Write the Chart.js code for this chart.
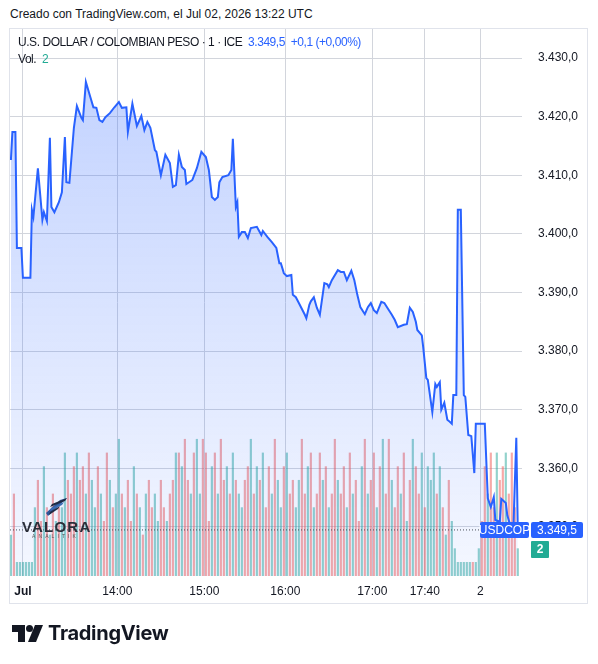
<!DOCTYPE html>
<html>
<head>
<meta charset="utf-8">
<script src="https://cdn.jsdelivr.net/npm/chart.js@4.4.1/dist/chart.umd.min.js"></script>
<style>
  body { margin: 0; background: #fff; width: 598px; height: 664px; position: relative; overflow: hidden;
         font-family: "Liberation Sans", Arial, sans-serif; color: #131722; }
  #created { position: absolute; left: 10px; top: 6px; font-size: 12px; line-height: 16px; }
  #pane { position: absolute; left: 9px; top: 28px; width: 579px; height: 576px; border: 1px solid #e0e3eb; box-sizing: border-box; }
  #chart { position: absolute; left: 10px; top: 29px; }
  .legend { position: absolute; left: 18px; font-size: 12px; letter-spacing: -0.45px; line-height: 16px; white-space: nowrap; }
  .blue { color: #2962ff; }
  .teal { color: #22ab94; }
  #valora { position: absolute; left: 20px; top: 495px; width: 80px; height: 50px; }
  #valora .name { position: absolute; left: 2px; top: 23px; font-weight: bold; font-size: 15px; letter-spacing: 1.2px; color: #2a2e39; }
  #valora .sub { position: absolute; left: 12px; top: 38px; font-size: 5px; letter-spacing: 3.1px; color: #555; }
  #tvlogo { position: absolute; left: 12px; top: 622px; height: 24px; }
  #tvlogo span { position: absolute; left: 36px; top: -1px; font-family: Inter, sans-serif; font-weight: 700; font-size: 20px; letter-spacing: -0.3px; color: #131722; }
</style>
</head>
<body>
<div id="created">Creado con TradingView.com, el Jul 02, 2026 13:22 UTC</div>
<div id="pane"></div>
<canvas id="chart" width="577" height="574"></canvas>
<div class="legend" style="top:34px">U.S. DOLLAR / COLOMBIAN PESO · 1 · ICE&nbsp;&nbsp;<span class="blue">3.349,5&nbsp;&nbsp;+0,1 (+0,00%)</span></div>
<div class="legend" style="top:51px">Vol.&nbsp;&nbsp;<span class="teal">2</span></div>
<div id="valora">
  <svg width="80" height="24" style="position:absolute;left:0;top:0">
    <polygon points="28,21 47,3 40,5 26,18" fill="#2f5597"/>
    <polygon points="30,12 45,6 47,3 32,9" fill="#1f2a44"/>
    <polygon points="30,16 42,10 44,7 31,13" fill="#3b6cb5"/>
    <polygon points="29,20 38,14 40,11 30,17" fill="#1f2a44"/>
  </svg>
  <div class="name">VALORA</div>
  <div class="sub">ANALITIK</div>
</div>
<div id="tvlogo">
  <svg width="32" height="20" style="position:absolute;left:0;top:3px">
    <path d="M0 0 H13 V17 H6 V7 H0 Z" fill="#131722"/>
    <circle cx="17.5" cy="3.5" r="3.5" fill="#131722"/>
    <polygon points="23,0 31,0 24,17 16,17" fill="#131722"/>
  </svg>
  <span>TradingView</span>
</div>

<script>
// precio (índice de barra -> valor)
const priceIdx = [0,0.5,1.5,2,3.5,4,6.5,7,7.5,9,
  10.5,11,12,13,13.5,14.5,16,17,18,18.5,
  19.5,21,22,23.5,24,25,26.5,27.5,28.5,29.5,
  30.5,31.5,33,34.5,36,37,38.5,39,40.5,42,
  43.5,44.5,45.5,46.5,48,48.5,50,51.5,53,54,
  55,56,57,58,58.5,60.5,62,63.5,65,66,
  67,68,69,69.5,70.5,72.5,73.5,74,75,75.5,
  76,77,78,79,80,82,83.5,84,85.5,87,
  88.5,89.5,90,91,92,93.5,94,95,96,98,
  98.5,99.5,100,101,102,103,104.5,105.5,106,107,
  109,110,111,112,113.5,114.5,115.5,116.5,118,119,
  120,121,122,123.5,124.5,125.5,127,128,129,131,
  132,133,134,135,135.5,137,137.5,138.5,139,140.5,
  141.5,142,143,143.5,144.5,145.5,146,147,147.5,148.5,
  149,150,151,151.5,152.5,153.5,154.5,155,158,159,
  160,161,161.5,163,163.5,165,165.5,166.5,167.5,168.5,
  169];
const priceVal = [3412.6,3417.4,3417.4,3397.6,3397.6,3392.5,3392.5,3404.1,3402.9,3411.2,
  3402.4,3403.7,3402.2,3416.4,3404.6,3403.7,3405.4,3407.1,3416.5,3408.8,
  3408.7,3418.1,3421.8,3419.8,3419.4,3425.9,3423.3,3421.6,3421.5,3419.4,
  3419.1,3419.9,3420.6,3421.6,3422.5,3421.5,3421.6,3417.4,3422.2,3418.4,
  3420.1,3417.7,3419.1,3418.1,3414.3,3414.0,3410.0,3413.5,3412.1,3408.0,
  3408.3,3413.5,3411.4,3410.9,3408.5,3409.2,3411.2,3414.0,3413.1,3410.9,
  3406.3,3405.8,3406.3,3408.8,3409.7,3410.0,3410.9,3416.2,3404.6,3405.4,
  3399.5,3400.3,3400.3,3399.3,3401.0,3401.2,3399.8,3400.5,3399.5,3398.6,
  3397.6,3395.0,3395.0,3393.3,3392.8,3393.0,3389.6,3389.2,3388.2,3386.2,
  3385.6,3387.9,3388.5,3389.2,3387.4,3386.2,3391.6,3391.4,3390.9,3392.1,
  3393.8,3393.5,3393.5,3392.1,3393.7,3392.1,3389.6,3387.5,3386.3,3387.5,
  3388.2,3387.0,3386.5,3388.4,3388.2,3387.4,3386.2,3385.3,3384.1,3384.5,
  3384.6,3387.4,3386.7,3385.0,3383.6,3382.7,3380.5,3375.4,3375.1,3369.6,
  3374.4,3373.9,3374.7,3370.0,3371.2,3368.3,3368.1,3367.6,3372.5,3372.5,
  3404.1,3404.1,3372.5,3372.2,3365.7,3365.5,3359.2,3367.6,3367.6,3354.9,
  3353.4,3355.1,3351.2,3350.9,3354.8,3354.1,3352.0,3350.3,3349.5,3365.2,
  3349.5];

// volumen por barra y sentido (g = sube, r = baja)
const volValues = [3,6,1,1,1,1,1,1,
  5,7,4,8,5,3,6,4,5,5,9,7,6,
  8,9,7,8,6,9,7,5,8,6,4,9,7,5,6,
  10,6,5,7,4,8,6,5,3,6,7,5,6,4,7,
  5,4,6,7,9,9,8,10,7,6,9,10,6,10,9,
  4,8,9,6,10,7,8,6,9,7,6,5,7,8,10,
  6,8,7,9,5,8,6,10,7,5,8,9,6,7,5,
  7,10,6,8,9,5,6,9,7,8,5,6,10,7,6,
  8,5,9,6,7,4,8,10,6,7,9,5,8,10,6,
  10,7,5,8,6,9,4,7,10,8,6,9,5,8,7,
  9,6,8,5,3,7,4,2,
  1,1,1,1,1,1,1,2,
  4,8,6,9,5,9,7,8,9,6,9,5,2];
const volSide = ('grgggggg' + 'grrgrgrgrggrr' + 'rgrrgrggrgrrgrg' + 'grgrrgrgrgrrggr' +
  'rgrrgrgrrgrggrr' + 'rgrgrrgrgrggrrg' + 'rgrgrrgrggrgrrg' + 'grrgrgrrgrgrrgr' +
  'rgrgrrgrgrrgrgr' + 'rgrrgrgrgrrgrgg' + 'grgrgrgg' + 'gggggrgg' + 'rrgrrgrrgrrrg').split('');

const tickPos = [4, 35.5, 64.5, 91.5, 120.5, 138, 156.5];
const tickText = ['Jul', '14:00', '15:00', '16:00', '17:00', '17:40', '2'];
const priceTicks = [3350, 3360, 3370, 3380, 3390, 3400, 3410, 3420, 3430];
const yMin = 3341.64, yMax = 3434.95;
const xMin = -0.3, xMax = 170.4;
const volMax = 40;
const lastPrice = 3349.5;
const lastVol = 2;

const FONT = '"Liberation Sans", Arial, sans-serif';
const GRID = '#d2d5dc';

function fmt(v) {
    const s = v.toFixed(1).split('.');
    return s[0].replace(/\B(?=(\d{3})+(?!\d))/g, '.') + ',' + s[1];
}

function roundBox(ctx, x, y, w, h, r) {
    ctx.beginPath();
    ctx.moveTo(x + r, y);
    ctx.arcTo(x + w, y, x + w, y + h, r);
    ctx.arcTo(x + w, y + h, x, y + h, r);
    ctx.arcTo(x, y + h, x, y, r);
    ctx.arcTo(x, y, x + w, y, r);
    ctx.closePath();
    ctx.fill();
}

// sin márgenes extra: el área de trazado ocupa todo el panel
function noPad(s) {
    s.paddingLeft = 0; s.paddingRight = 0; s.paddingTop = 0; s.paddingBottom = 0;
}

// etiquetas del último precio y volumen en el eje derecho
const lastLabels = {
    id: 'lastLabels',
    afterDraw(chart) {
        const ctx = chart.ctx;
        const a = chart.chartArea;
        const yp = Math.round(chart.scales.y.getPixelForValue(lastPrice));
        const yv = Math.round(chart.scales.yVol.getPixelForValue(lastVol));
        ctx.save();
        ctx.font = '12px ' + FONT;
        ctx.textBaseline = 'middle';
        ctx.fillStyle = '#2962ff';
        roundBox(ctx, a.right - 42, yp - 8, 49, 16, 2);
        roundBox(ctx, a.right + 9, yp - 8, 52, 16, 2);
        ctx.fillStyle = '#22ab94';
        roundBox(ctx, a.right + 9, yv - 8, 18, 17, 1);
        ctx.fillStyle = '#ffffff';
        ctx.textAlign = 'center';
        ctx.fillText('USDCOP', a.right - 17.5, yp + 1);
        ctx.fillText(fmt(lastPrice), a.right + 35, yp + 1);
        ctx.font = 'bold 12px ' + FONT;
        ctx.fillText(String(lastVol), a.right + 18, yv + 1);
        ctx.restore();
    }
};

document.addEventListener('DOMContentLoaded', () => {
    const cv = document.getElementById('chart');
    new Chart(cv, {
        type: 'bar',
        data: {
            datasets: [
                {
                    type: 'line',
                    label: 'USDCOP',
                    data: priceIdx.map((x, i) => ({ x: x, y: priceVal[i] })),
                    borderColor: '#2962ff',
                    borderWidth: 2,
                    pointRadius: 0,
                    tension: 0,
                    fill: 'start',
                    backgroundColor: (c) => {
                        const chart = c.chart;
                        const a = chart.chartArea;
                        if (!a) return 'rgba(41,98,255,0.15)';
                        const top = chart.scales.y.getPixelForValue(Math.max(...priceVal));
                        const g = chart.ctx.createLinearGradient(0, top, 0, a.bottom);
                        g.addColorStop(0, 'rgba(41,98,255,0.28)');
                        g.addColorStop(1, 'rgba(41,98,255,0.05)');
                        return g;
                    },
                    yAxisID: 'y',
                    order: 1
                },
                {
                    type: 'line',
                    label: 'last',
                    data: [{ x: xMin, y: lastPrice }, { x: xMax, y: lastPrice }],
                    borderColor: '#4a4e59',
                    borderWidth: 1,
                    borderDash: [1, 2],
                    pointRadius: 0,
                    fill: false,
                    yAxisID: 'y',
                    order: 0
                },
                {
                    type: 'bar',
                    label: 'Vol',
                    data: volValues.map((v, i) => ({ x: i, y: v })),
                    backgroundColor: volSide.map(s => s === 'g' ? 'rgba(38,166,154,0.5)' : 'rgba(239,83,80,0.5)'),
                    barThickness: 1.5,
                    yAxisID: 'yVol',
                    order: 2
                }
            ]
        },
        options: {
            responsive: false,
            animation: false,
            layout: { padding: 0, autoPadding: false },
            plugins: { legend: { display: false }, tooltip: { enabled: false } },
            scales: {
                x: {
                    type: 'linear',
                    offset: false,
                    min: xMin,
                    max: xMax,
                    grid: { color: GRID, drawTicks: false, offset: false },
                    border: { display: false },
                    afterBuildTicks: (s) => { s.ticks = tickPos.map(v => ({ value: v })); },
                    afterFit: (s) => { s.height = 27; noPad(s); },
                    ticks: {
                        autoSkip: false,
                        maxRotation: 0,
                        padding: 8,
                        color: '#131722',
                        font: (c) => ({ family: FONT, size: 12, weight: c.index === 0 ? 'bold' : 'normal' }),
                        callback: (v) => {
                            const k = tickPos.indexOf(v);
                            return k >= 0 ? tickText[k] : '';
                        }
                    }
                },
                y: {
                    type: 'linear',
                    position: 'right',
                    min: yMin,
                    max: yMax,
                    grid: { color: GRID, drawTicks: false },
                    border: { display: false },
                    afterBuildTicks: (s) => { s.ticks = priceTicks.map(v => ({ value: v })); },
                    afterFit: (s) => { s.width = 65; noPad(s); },
                    ticks: {
                        padding: 16,
                        color: '#131722',
                        font: { family: FONT, size: 12 },
                        callback: (v) => fmt(v)
                    }
                },
                yVol: {
                    display: false,
                    min: 0,
                    max: volMax
                }
            }
        },
        plugins: [lastLabels]
    });
});
</script>
</body>
</html>
